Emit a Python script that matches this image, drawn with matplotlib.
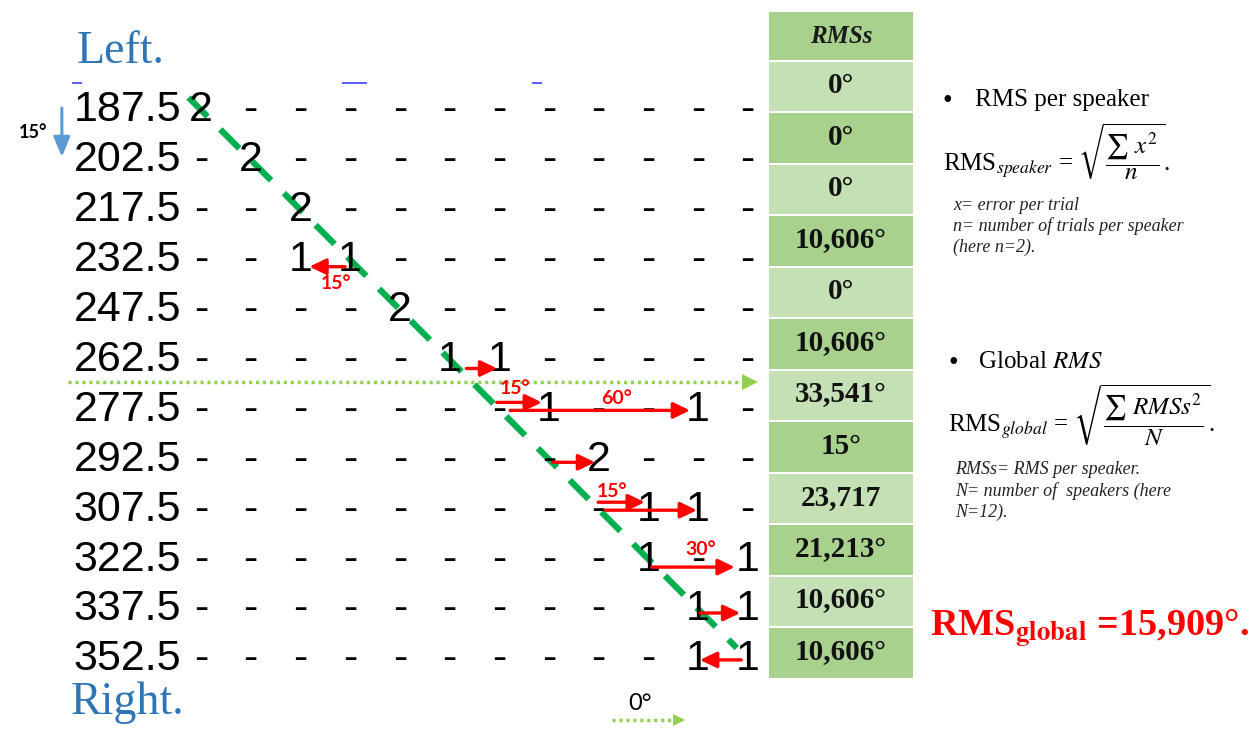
import matplotlib
matplotlib.use("Agg")
import matplotlib.pyplot as plt

plt.rcParams['mathtext.fontset'] = 'stix'

# ---- data ----
speakers = ["187.5", "202.5", "217.5", "232.5", "247.5", "262.5",
            "277.5", "292.5", "307.5", "322.5", "337.5", "352.5"]
# responses per target speaker: {response column: count}
responses = [{0: 2}, {1: 2}, {2: 2}, {2: 1, 3: 1}, {4: 2}, {5: 1, 6: 1},
             {7: 1, 10: 1}, {8: 2}, {9: 1, 10: 1}, {9: 1, 11: 1},
             {10: 1, 11: 1}, {10: 1, 11: 1}]
rms_values = ["0°", "0°", "0°", "10,606°", "0°", "10,606°",
              "33,541°", "15°", "23,717", "21,213°", "10,606°", "10,606°"]
# error arrows: row, from column, to column, label
arrow_rows = [3, 5, 6, 6, 7, 8, 8, 9, 10, 11]
arrow_from = [2.9, 5.34, 5.95, 6.22, 7.08, 7.99, 8.13, 9.07, 10.04, 10.87]
arrow_to = [2.18, 5.96, 6.86, 9.84, 7.93, 8.93, 9.98, 10.74, 10.85, 10.04]
arrow_labels = ["15°", "", "15°", "60°", "", "15°", "", "30°", "", ""]
rms_global = "15,909°"

# ---- styles / layout ----
arrow_dy = [0.18, 0.22, -0.1, 0.06, 0.1, -0.1, 0.06, 0.2, 0.12, 0.06]
label_off = [(0.18, 0.34), (0, 0), (-0.08, -0.27), (0.34, -0.23), (0, 0),
             (-0.19, -0.22), (0, 0), (0.14, -0.36), (0, 0), (0, 0)]
W, H = 1256, 729
sans = 'Liberation Sans'
serif = 'Liberation Serif'
red = '#ff0000'


def fx(x):
    return x / W


def fy(y):
    return 1 - y / H


fig = plt.figure(figsize=(W / 100, H / 100), dpi=100)
fig.patch.set_facecolor('white')

# matrix axes: one unit per speaker
ax = fig.add_axes([0, 0, 1, 1])
ax.axis('off')
ax.set_xlim(-201 / 49.7, (W - 201) / 49.7)
ax.set_ylim((H - 108) / 49.9, -108 / 49.9)

n = len(speakers)
for r, lab in enumerate(speakers):
    ax.text(-0.4, r + 0.05, lab, ha='right', va='center', fontsize=31,
            family=sans, color='black')
    for c in range(n):
        s = str(responses[r][c]) if c in responses[r] else "-"
        ax.text(c, r + 0.05, s, ha='center', va='center', fontsize=31,
                family=sans, color='black')

# diagonal (correct answers)
ax.plot([-0.25, 10.78], [-0.21, 10.82], color='#00b050', lw=4.5,
        dashes=(4.3, 2.9), solid_capstyle='butt', dash_capstyle='butt')

# dotted green separator
ax.plot([-2.68, 11.0], [5.5, 5.5], color='#92d050', lw=2.5,
        linestyle=(0, (0.9, 1.1)))
ax.plot([11.05], [5.5], marker='>', color='#92d050', markersize=11,
        markeredgewidth=0)

# red error arrows
for i, r in enumerate(arrow_rows):
    y = r + arrow_dy[i]
    ax.annotate("", xy=(arrow_to[i], y), xytext=(arrow_from[i], y),
                arrowprops=dict(arrowstyle='-|>,head_length=0.5,head_width=0.24',
                                mutation_scale=20, lw=2.4, color=red,
                                shrinkA=0, shrinkB=0))
    if arrow_labels[i]:
        mx = (arrow_from[i] + arrow_to[i]) / 2 + label_off[i][0]
        ax.text(mx, y + label_off[i][1], arrow_labels[i], ha='center',
                va='center', fontsize=14, family='Lato', fontweight='bold',
                color=red)

# blue 15° step arrow
ax.annotate("", xy=(-2.8, 0.98), xytext=(-2.8, 0.0),
            arrowprops=dict(arrowstyle='-|>,head_length=0.6,head_width=0.25',
                            mutation_scale=20, lw=2.2, color='#5b9bd5',
                            shrinkA=0, shrinkB=0))
fig.text(fx(33), fy(133), "15°", ha='center', va='center', fontsize=13,
         family='Lato', fontweight='bold', color='black')

# 0° legend at bottom
ax.plot([8.27, 9.55], [12.26, 12.26], color='#92d050', lw=2.5,
        linestyle=(0, (0.9, 1.1)))
ax.plot([9.62], [12.26], marker='>', color='#92d050', markersize=9,
        markeredgewidth=0)
fig.text(fx(640), fy(704), "0°", ha='center', va='center', fontsize=17,
         family='Lato', color='black')

# Left / Right
fig.text(fx(121), fy(52), "Left.", ha='center', va='center', fontsize=33,
         family=serif, color='#2e75b6')
fig.text(fx(128), fy(703), "Right.", ha='center', va='center', fontsize=33,
         family=serif, color='#2e75b6')

# small blue marks at top
for x0, x1 in [(73, 81), (343, 366), (533, 541)]:
    fig.add_artist(plt.Line2D([fx(x0), fx(x1)], [fy(83), fy(83)],
                              color='#5a5aff', lw=1.4))

# ---- RMS table ----
tax = fig.add_axes([769 / W, 1 - 680 / H, 144 / W, 668 / H])
tax.axis('off')
tax.set_xlim(0, 1)
tax.set_ylim(12.0, -0.97)
dark, light = '#a9d18e', '#c5e0b4'
tax.barh([-0.505], [1], height=0.93, left=0, color=dark)
tax.text(0.5, -0.5, "RMSs", ha='center', va='center', fontsize=18,
         family=serif, fontweight='bold', fontstyle='italic',
         color='#1a1a1a')
rows = list(range(len(rms_values)))
tax.barh([i + 0.48 for i in rows], [1] * len(rows), height=0.96, left=0,
         color=[light if i % 2 == 0 else dark for i in rows])
for i, v in enumerate(rms_values):
    tax.text(0.5, i + 0.46, v, ha='center', va='center', fontsize=21,
             family=serif, fontweight='bold', color='#111111')

# ---- right-hand notes ----
fig.text(fx(943), fy(101), "•", ha='left', va='center', fontsize=20,
         family=serif)
fig.text(fx(975), fy(100), "RMS per speaker", ha='left', va='center',
         fontsize=18, family=serif)
fig.text(fx(943), fy(152),
         r"RMS$_{\mathit{speaker}}$ = $\sqrt{\dfrac{\sum\ x^2}{n}}$.",
         ha='left', va='center', fontsize=18, family=serif)
fig.text(fx(953), fy(197),
         "x= error per trial\nn= number of trials per speaker\n(here n=2).",
         ha='left', va='top', fontsize=13, family=serif, fontstyle='italic',
         linespacing=1.25, color='#222222')

fig.text(fx(948), fy(364), "•", ha='left', va='center', fontsize=20,
         family=serif)
fig.text(fx(978), fy(362), r"Global $\mathit{RMS}$", ha='left', va='center',
         fontsize=18, family=serif)
fig.text(fx(948), fy(415),
         r"RMS$_{\mathit{global}}$ = $\sqrt{\dfrac{\sum\ \mathit{RMSs}^2}{N}}$.",
         ha='left', va='center', fontsize=18, family=serif)
fig.text(fx(955), fy(461),
         "RMSs= RMS per speaker.\nN= number of  speakers (here\nN=12).",
         ha='left', va='top', fontsize=13, family=serif, fontstyle='italic',
         linespacing=1.3, color='#222222')

fig.text(fx(930), fy(628), r"RMS$_{\mathbf{global}}$ =" + rms_global + ".",
         ha='left', va='center', fontsize=27.5, family=serif,
         fontweight='bold', color=red)

fig.savefig("out.png", dpi=100, facecolor='white')
